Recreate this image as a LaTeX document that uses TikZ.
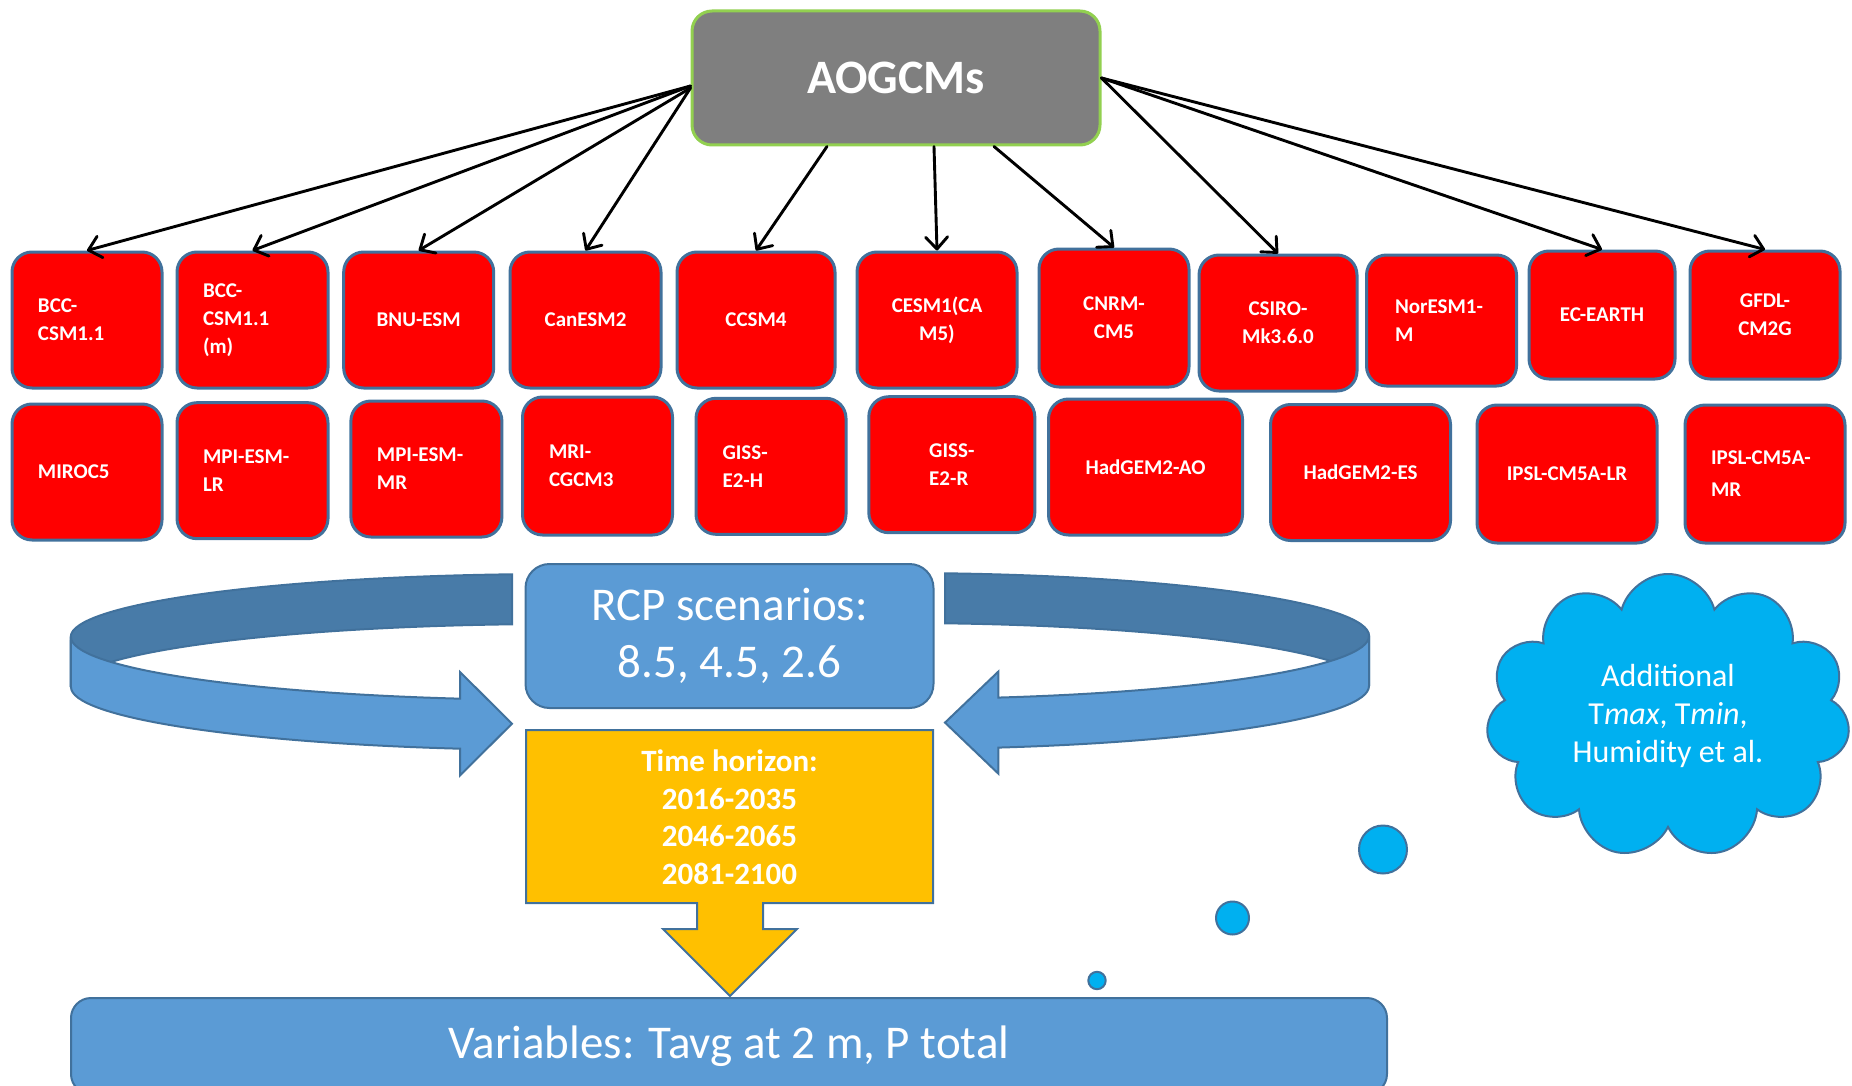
\documentclass[tikz,border=0pt]{standalone}
\usepackage{fontspec}
\setmainfont{Carlito}
\usetikzlibrary{arrows.meta}
\usetikzlibrary{shapes.symbols}

\definecolor{hubgray}{RGB}{127,127,127}
\definecolor{hubgreen}{RGB}{146,208,80}
\definecolor{edgeblue}{RGB}{65,113,156}
\definecolor{paleblue}{RGB}{91,155,213}
\definecolor{darkblue}{RGB}{72,123,168}
\definecolor{gold}{RGB}{255,192,0}
\definecolor{skyblue}{RGB}{0,176,240}

\begin{document}
\begin{tikzpicture}
		[x=0.5pt, y=-0.5pt,
		hub/.style={rounded corners=10pt, fill=hubgray, draw=hubgreen, line width=1.5pt, text=white, font=\fontsize{24}{28}\selectfont\bfseries, minimum width=204pt, minimum height=67pt},
		model/.style={rounded corners=10pt, fill=red, draw=edgeblue, line width=1.5pt, text=white, font=\fontsize{10.5}{14}\selectfont\bfseries, align=center, minimum width=75pt, minimum height=68pt},
		lmodel/.style={model, align=left, inner xsep=13pt, text width=#1},
		scen/.style={rounded corners=12pt, fill=paleblue, draw=edgeblue, line width=1pt, text=white, align=center, font=\fontsize{23.5}{28.3}\selectfont},
		ring/.style={fill=#1, draw=edgeblue, line width=1pt},
		callout/.style={fill=gold, draw=edgeblue, line width=1pt},
		bubble/.style={circle, fill=skyblue, draw=edgeblue, line width=1pt, inner sep=0pt},
		link/.style={-{Straight Barb[length=6pt,width=11pt,round]}, line width=1.45pt, line cap=round}]
		\useasboundingbox (0,0) rectangle (1852,1086);
		\clip (0,0) rectangle (1852,1086);

		\node[hub] (aog) at (896,78) {AOGCMs};

		\node[lmodel=49pt] (bcc) at (87,320) {BCC-\\CSM1.1};
		\node[lmodel=49.5pt] (bccm) at (252.5,320) {BCC-\\CSM1.1\\(m)};
		\node[model] (bnu) at (418.7,320) {BNU-ESM};
		\node[model, minimum width=75.5pt] (canesm) at (585.5,320) {CanESM2};
		\node[model, minimum width=79pt] (ccsm) at (756,320) {CCSM4};
		\node[model, minimum width=80pt] (cesm) at (937,320) {CESM1(CA\\M5)};
		\node[model, minimum height=69pt] (cnrm) at (1114,318) {CNRM-\\CM5};
		\node[model, minimum width=79pt] (csiro) at (1278,323) {CSIRO-\\Mk3.6.0};
		\node[lmodel=46.5pt, minimum height=65.5pt] (noresm) at (1441.5,320.5) {NorESM1-\\M};
		\node[model, minimum width=73pt, minimum height=64pt] (ecearth) at (1602,315) {EC-EARTH};
		\node[model, minimum height=64pt] (gfdl) at (1765,315) {GFDL-\\CM2G};

		\node[lmodel=49pt] (miroc) at (87,472) {MIROC5};
		\node[lmodel=49.5pt] (mpilr) at (252.5,470.7) {MPI-ESM-\\LR};
		\node[lmodel=49.5pt] (mpimr) at (426.4,469) {MPI-ESM-\\MR};
		\node[lmodel=48.5pt, minimum height=69pt] (mri) at (597.5,466) {MRI-\\CGCM3};
		\node[lmodel=48.5pt] (gissh) at (771,466.3) {GISS-\\E2-H};
		\node[model, align=left, minimum width=83pt] (gissr) at (951.8,464.7) {GISS-\\E2-R};
		\node[model, minimum width=97pt] (hadao) at (1145.5,467) {HadGEM2-AO};
		\node[model, minimum width=90pt] (hades) at (1360.5,472.5) {HadGEM2-ES};
		\node[model, minimum width=90pt, minimum height=69pt] (ipsllr) at (1567,474) {IPSL-CM5A-LR};
		\node[lmodel=54pt, minimum height=69pt] (ipslmr) at (1765,474) {IPSL-CM5A-\\[2pt]MR};

		\draw[link] ([yshift=-4pt]aog.west) -- (bcc.north);
		\draw[link] ([yshift=-4pt]aog.west) -- (bccm.north);
		\draw[link] ([yshift=-5pt]aog.west) -- (bnu.north);
		\draw[link] ([yshift=-5pt]aog.west) -- (canesm.north);
		\draw[link] ([xshift=-34.5pt]aog.south) -- (ccsm.north);
		\draw[link] ([xshift=19pt]aog.south) -- (cesm.north);
		\draw[link] ([xshift=49pt]aog.south) -- (cnrm.north);
		\draw[link] (aog.east) -- (csiro.north);
		\draw[link] (aog.east) -- (ecearth.north);
		\draw[link] (aog.east) -- (gfdl.north);

		\draw[ring=darkblue] (512,574.3) arc[start angle=-95.6, end angle=-180, x radius=489, y radius=63]
			-- ++(0,50) arc[start angle=-180, end angle=-95.6, x radius=489, y radius=63] -- cycle;
		\draw[ring=paleblue] (71,637) arc[start angle=180, end angle=101.8, x radius=489, y radius=63]
			-- (460,672) -- (512,723.7) -- (460,775.4) -- (460,748.7)
			arc[start angle=101.8, end angle=180, x radius=489, y radius=63] -- cycle;
		\draw[ring=darkblue] (945,573.3) arc[start angle=-84.4, end angle=0, x radius=470, y radius=63]
			-- ++(0,50) arc[start angle=0, end angle=-84.4, x radius=470, y radius=63] -- cycle;
		\draw[ring=paleblue] (1369,636) arc[start angle=0, end angle=77.8, x radius=470, y radius=63]
			-- (998.3,671.6) -- (945,722.6) -- (998.3,773.6) -- (998.3,747.6)
			arc[start angle=77.8, end angle=0, x radius=470, y radius=63] -- cycle;

		\node[scen, minimum width=204pt, minimum height=72pt] (rcp) at (729.5,636) {RCP scenarios:\\8.5, 4.5, 2.6};

		\draw[callout] (526,730) -- (933,730) -- (933,903) -- (763,903) -- (763,929) -- (797,929)
			-- (730,996) -- (663,929) -- (697,929) -- (697,903) -- (526,903) -- cycle;
		\node[text=white, align=center, font=\fontsize{15.5}{18.75}\selectfont\bfseries] (horizon) at (729.5,817) {Time horizon:\\2016-2035\\2046-2065\\2081-2100};

		\node[scen, rounded corners=10pt, minimum width=658pt, minimum height=48pt] (vars) at (729,1046) {Variables: Tavg at 2 m, P total};

		\node[cloud, cloud puffs=11, cloud ignores aspect, fill=skyblue, draw=edgeblue, line width=1pt, minimum width=182pt, minimum height=142pt, text=white, align=center, font=\fontsize{16}{19}\selectfont] (extra) at (1668,716) {Additional\\T\textit{max}, T\textit{min},\\Humidity et al.};
		\node[bubble, minimum size=24pt] (puffa) at (1383,849.5) {};
		\node[bubble, minimum size=16.5pt] (puffb) at (1232.5,918) {};
		\node[bubble, minimum size=8.7pt] (puffc) at (1097,980.5) {};
	\end{tikzpicture}
\end{document}
